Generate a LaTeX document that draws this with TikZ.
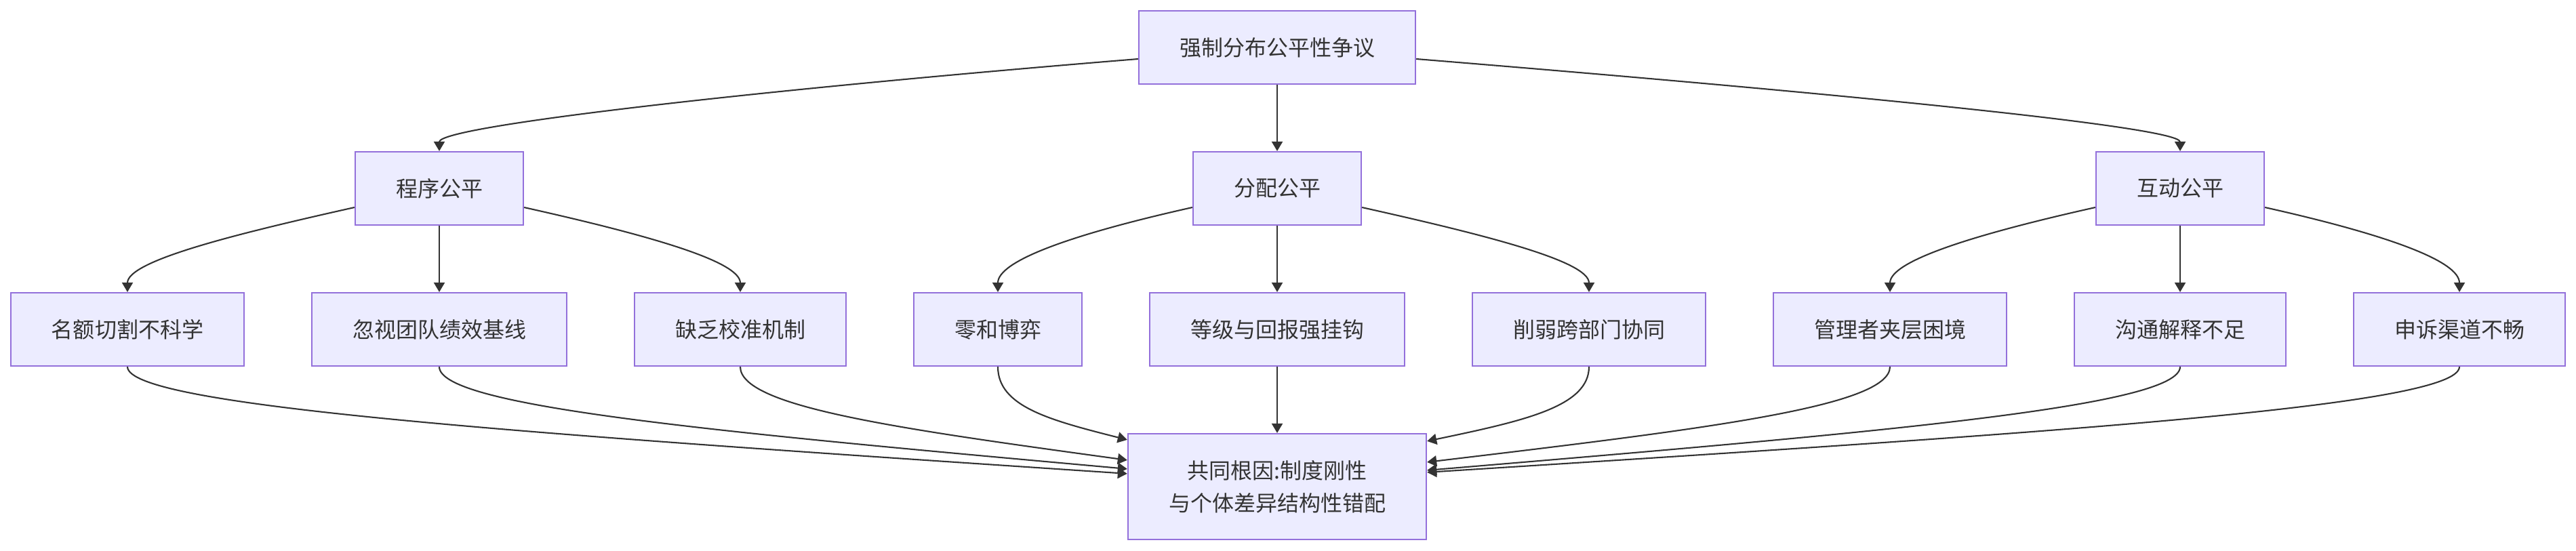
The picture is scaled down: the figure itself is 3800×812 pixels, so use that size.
\documentclass[tikz,border=0pt]{standalone}
\usepackage{fontspec}
\newfontfamily\cjk{Noto Sans CJK SC}
\usetikzlibrary{arrows.meta,calc}
\definecolor{nodefill}{HTML}{ECECFF}
\definecolor{nodedraw}{HTML}{9370DB}
\definecolor{edgecol}{HTML}{333333}
\definecolor{txt}{HTML}{333333}
\begin{document}
\begin{tikzpicture}[x=0.01cm,y=-0.01cm,
  box/.style={draw=nodedraw, fill=nodefill, line width=0.6pt, minimum height=1.08cm,
    inner sep=0pt, text=txt, font=\cjk\fontsize{9.1pt}{13.6pt}\selectfont, align=center},
  conn/.style={draw=edgecol, line width=0.6pt, -{Triangle[length=0.14cm,width=0.16cm]}}]
\path[use as bounding box] (0,0) rectangle (3800,812);

\node[box, minimum width=4.08cm] (T) at (1884,70) {强制分布公平性争议};
\node[box, minimum width=2.48cm] (P) at (648,278) {程序公平};
\node[box, minimum width=2.48cm] (D) at (1884,278) {分配公平};
\node[box, minimum width=2.48cm] (I) at (3216,278) {互动公平};
\node[box, minimum width=3.44cm] (a1) at (188,486) {名额切割不科学};
\node[box, minimum width=3.76cm] (a2) at (648,486) {忽视团队绩效基线};
\node[box, minimum width=3.12cm] (a3) at (1092,486) {缺乏校准机制};
\node[box, minimum width=2.48cm] (b1) at (1472,486) {零和博弈};
\node[box, minimum width=3.76cm] (b2) at (1884,486) {等级与回报强挂钩};
\node[box, minimum width=3.44cm] (b3) at (2344,486) {削弱跨部门协同};
\node[box, minimum width=3.44cm] (c1) at (2788,486) {管理者夹层困境};
\node[box, minimum width=3.12cm] (c2) at (3216,486) {沟通解释不足};
\node[box, minimum width=3.12cm] (c3) at (3628,486) {申诉渠道不畅};
\node[box, minimum width=4.40cm, minimum height=1.56cm] (R) at (1884,718) {共同根因:制度刚性\\与个体差异结构性错配};

% start / end points on borders
\coordinate (Tl) at ($(T.west)+(0,17)$);
\coordinate (Tr) at ($(T.east)+(0,17)$);
\coordinate (Pl) at ($(P.west)+(0,28)$);
\coordinate (Pr) at ($(P.east)+(0,28)$);
\coordinate (Dl) at ($(D.west)+(0,28)$);
\coordinate (Dr) at ($(D.east)+(0,28)$);
\coordinate (Il) at ($(I.west)+(0,28)$);
\coordinate (Ir) at ($(I.east)+(0,28)$);
\coordinate (Ra1) at ($(R.north west)+(0,60)$);
\coordinate (Ra2) at ($(R.north west)+(0,53)$);
\coordinate (Ra3) at ($(R.north west)+(0,40)$);
\coordinate (Rb1) at ($(R.north west)+(0,10)$);
\coordinate (Rb3) at ($(R.north east)+(0,12)$);
\coordinate (Rc1) at ($(R.north east)+(0,43)$);
\coordinate (Rc2) at ($(R.north east)+(0,55)$);
\coordinate (Rc3) at ($(R.north east)+(0,58)$);

% top level
\draw[conn] (Tl) .. controls (1150,130) and (648,185) .. (P.north);
\draw[conn] (T) -- (D);
\draw[conn] (Tr) .. controls (2618,130) and (3216,185) .. (I.north);

% second level
\draw[conn] (Pl) .. controls (344,346) and (188,385) .. (a1.north);
\draw[conn] (P) -- (a2);
\draw[conn] (Pr) .. controls (952,346) and (1092,385) .. (a3.north);
\draw[conn] (Dl) .. controls (1580,346) and (1472,385) .. (b1.north);
\draw[conn] (D) -- (b2);
\draw[conn] (Dr) .. controls (2188,346) and (2344,385) .. (b3.north);
\draw[conn] (Il) .. controls (2912,346) and (2788,385) .. (c1.north);
\draw[conn] (I) -- (c2);
\draw[conn] (Ir) .. controls (3520,346) and (3628,385) .. (c3.north);

% to root cause
\draw[conn] (a1.south) .. controls (188,600) and (778,640) .. (Ra1);
\draw[conn] (a2.south) .. controls (648,600) and (1054,637) .. (Ra2);
\draw[conn] (a3.south) .. controls (1092,600) and (1321,632) .. (Ra3);
\draw[conn] (b1.south) .. controls (1472,600) and (1549,620) .. (Rb1);
\draw[conn] (b2) -- (R);
\draw[conn] (b3.south) .. controls (2344,600) and (2248,621) .. (Rb3);
\draw[conn] (c1.south) .. controls (2788,600) and (2514,633) .. (Rc1);
\draw[conn] (c2.south) .. controls (3216,600) and (2771,638) .. (Rc2);
\draw[conn] (c3.south) .. controls (3628,600) and (3018,639) .. (Rc3);
\end{tikzpicture}
\end{document}
